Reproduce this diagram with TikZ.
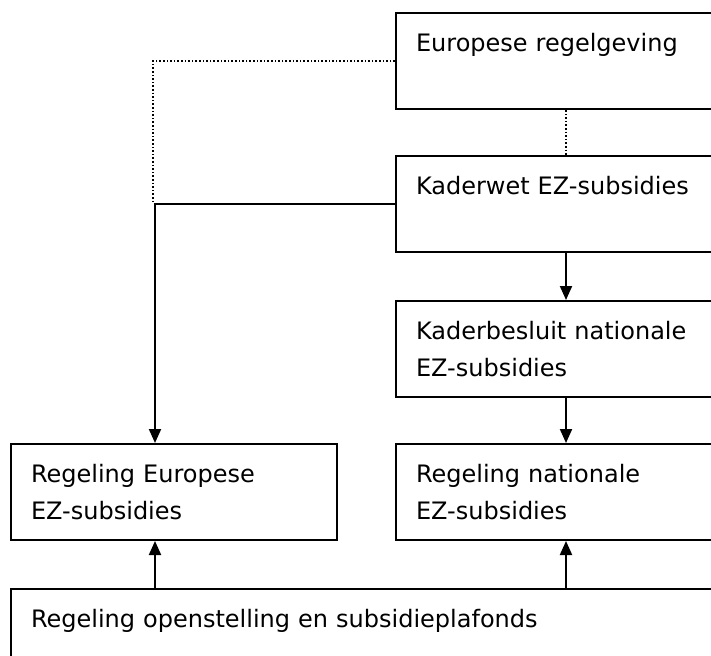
\documentclass[tikz,border=0pt]{standalone}
\usepackage{fontspec}
\setmainfont{DejaVu Sans}
\usetikzlibrary{arrows.meta,positioning}

\begin{document}
\begin{tikzpicture}[x=1pt,y=-1pt,
    box/.style={draw, line width=2pt, anchor=north west, minimum height=96pt,
      inner xsep=20pt, align=left, font=\fontsize{24}{37}\selectfont},
    link/.style={line width=2pt, -{Triangle[length=14pt,width=12pt]}},
    dotlink/.style={line width=1.6pt, dotted}]
  \useasboundingbox (0,0) rectangle (711,655);
  \clip (0,0) rectangle (711,655);
  % right column
  \node[box, text width=300pt] (eu) at (395,12) {Europese regelgeving\\\mbox{}};
  \node[box, text width=300pt] (kw) at (395,155) {Kaderwet EZ-subsidies\\\mbox{}};
  \node[box, text width=300pt] (kb) at (395,300) {Kaderbesluit nationale\\EZ-subsidies};
  \node[box, text width=300pt] (rn) at (395,443) {Regeling nationale\\EZ-subsidies};
  % left column and bottom
  \node[box, text width=286pt] (re) at (10,443) {Regeling Europese\\EZ-subsidies};
  \node[box, text width=760pt] (ro) at (10,588) {Regeling openstelling en subsidieplafonds\\\mbox{}};
  \coordinate (lx) at (155,0);
  \coordinate (dx) at (153,0);
  \draw[dotlink] (eu.west) -| (kw.west -| dx);
  \draw[dotlink] (eu.south) -- (kw.north);
  \draw[link] (kw.west) -| (re.north -| lx);
  \draw[link] (kw) -- (kb);
  \draw[link] (kb) -- (rn);
  \draw[link] (ro.north -| lx) -- (re.south -| lx);
  \draw[link] (ro.north -| rn.south) -- (rn.south);
\end{tikzpicture}
\end{document}
